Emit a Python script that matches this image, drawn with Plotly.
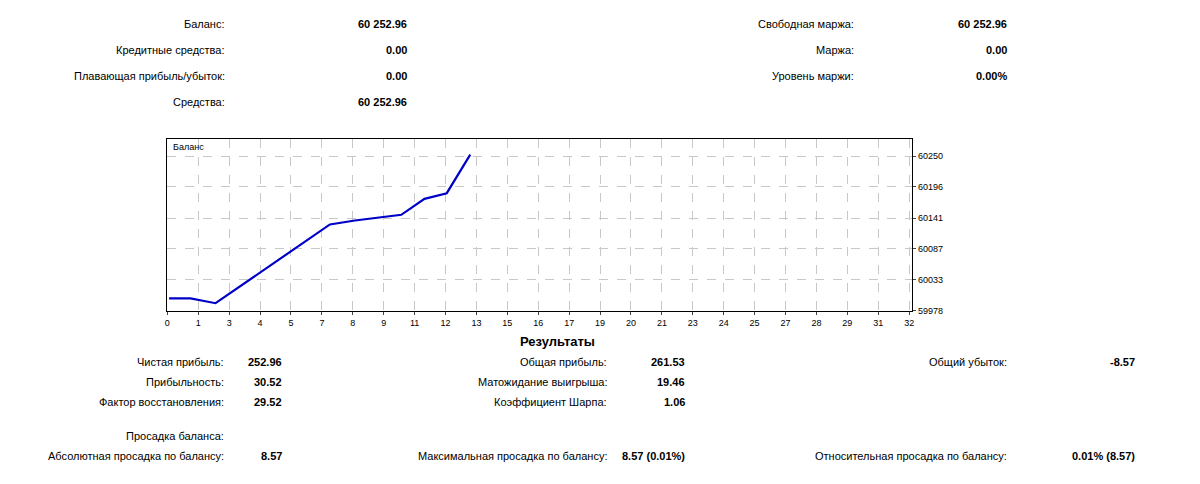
import plotly.graph_objects as go

W, H = 1200, 484
OFF = 8  # page body margin in the browser

# balance curve (trade position, balance)
trade_pos = [0.056, 0.75, 1.56, 5.26, 6.07, 7.57, 8.32, 9.04, 9.80]
balance = [60000.0, 60000.0, 59991.43, 60130.0, 60137.0, 60147.0, 60175.0, 60185.0, 60252.96]

x_tickvals = list(range(0, 25))
x_ticktext = ["0", "1", "3", "4", "5", "7", "8", "9", "11", "12", "13", "15", "16",
              "17", "19", "20", "21", "23", "24", "25", "27", "28", "29", "31", "32"]
y_tickvals = [59978, 60033, 60087, 60141, 60196, 60250]

# summary block: (label, value, label right edge px, value right edge px, y px)
top_rows = [
    ("Баланс:", "60 252.96", 225, 408, 24),
    ("Кредитные средства:", "0.00", 225, 408, 50),
    ("Плавающая прибыль/убыток:", "0.00", 225, 408, 77),
    ("Средства:", "60 252.96", 225, 408, 103),
    ("Свободная маржа:", "60 252.96", 857, 1010, 24),
    ("Маржа:", "0.00", 857, 1010, 50),
    ("Уровень маржи:", "0.00%", 857, 1010, 77),
]
result_rows = [
    ("Чистая прибыль:", "252.96", 224, 282, 366),
    ("Прибыльность:", "30.52", 224, 282, 386),
    ("Фактор восстановления:", "29.52", 224, 282, 406),
    ("Общая прибыль:", "261.53", 608, 687, 366),
    ("Матожидание выигрыша:", "19.46", 608, 687, 386),
    ("Коэффициент Шарпа:", "1.06", 608, 687, 406),
    ("Общий убыток:", "-8.57", 1010, 1139, 366),
    ("Абсолютная просадка по балансу:", "8.57", 224, 282, 461),
    ("Максимальная просадка по балансу:", "8.57 (0.01%)", 608, 687, 461),
    ("Относительная просадка по балансу:", "0.01% (8.57)", 1010, 1139, 461),
]

FONT = "Liberation Sans"


def px(x, y):
    return (x - OFF) / W, 1 - (y - OFF) / H


fig = go.Figure()
fig.add_trace(go.Scatter(x=trade_pos, y=balance, mode="lines",
                         line=dict(color="#0000c8", width=2.2), hoverinfo="skip"))

ann = []
for rows in (top_rows, result_rows):
    for lab, val, lx, vx, y in rows:
        ax, ay = px(lx, y)
        ann.append(dict(text=lab, x=ax, y=ay, xanchor="right", yanchor="middle"))
        bx, by = px(vx, y)
        ann.append(dict(text="<b>" + val + "</b>", x=bx, y=by, xanchor="right", yanchor="middle"))

ax, ay = px(224, 440)
ann.append(dict(text="Просадка баланса:", x=ax, y=ay, xanchor="right", yanchor="middle"))
ax, ay = px(557, 345)
ann.append(dict(text="<b>Результаты</b>", x=ax, y=ay, xanchor="center", yanchor="middle",
                font=dict(size=13, family=FONT, color="black")))
ax, ay = px(169, 148)
ann.append(dict(text="Баланс", x=ax, y=ay, xanchor="left", yanchor="middle",
                font=dict(size=9, family=FONT, color="black")))

for a in ann:
    a.update(xref="paper", yref="paper", showarrow=False)
    a.setdefault("font", dict(size=11, family=FONT, color="black"))

x0, y1 = px(165, 140)
x1, y0 = px(913, 314)

fig.update_layout(
    width=W, height=H, margin=dict(l=0, r=0, t=0, b=0),
    paper_bgcolor="white", plot_bgcolor="white", showlegend=False,
    annotations=ann,
    font=dict(family=FONT, size=9, color="black"),
)
fig.update_xaxes(domain=[x0, x1], range=[0.0, 24.1],
                 tickvals=x_tickvals, ticktext=x_ticktext, ticks="outside", ticklen=3,
                 showgrid=True, gridcolor="#c8c8c8", griddash="dash", gridwidth=1,
                 showline=True, linecolor="black", mirror=True, zeroline=False,
                 tickfont=dict(size=9))
fig.update_yaxes(domain=[y0, y1], range=[59978, 60281], side="right",
                 tickvals=y_tickvals, tickformat="d", ticks="outside", ticklen=3,
                 showgrid=True, gridcolor="#c8c8c8", griddash="dash", gridwidth=1,
                 showline=True, linecolor="black", mirror=True, zeroline=False,
                 tickfont=dict(size=9))

fig.write_html("out.html")
